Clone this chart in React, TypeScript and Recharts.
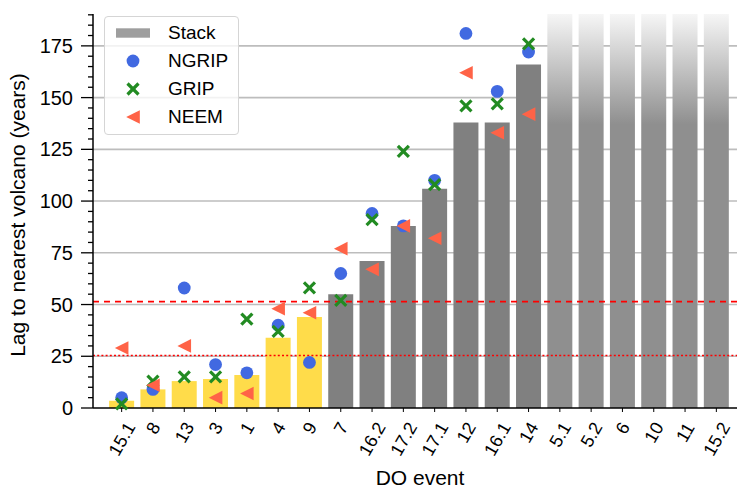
import {
  Bar,
  CartesianGrid,
  Cell,
  ComposedChart,
  Legend,
  ReferenceLine,
  Scatter,
  XAxis,
  YAxis,
} from "recharts";

const events = [
  "15.1", "8", "13", "3", "1", "4", "9",
  "7", "16.2", "17.2", "17.1", "12", "16.1", "14",
  "5.1", "5.2", "6", "10", "11", "15.2",
];

// lag of the stacked record; null = no volcano inside the search window
const stackLag = [
  3.5, 9, 13, 14, 16, 34, 44,
  55, 71, 88, 106, 138, 138, 166,
  null, null, null, null, null, null,
];
const barGroup = [
  "short", "short", "short", "short", "short", "short", "short",
  "long", "long", "long", "long", "long", "long", "long",
  "none", "none", "none", "none", "none", "none",
];

const ngripLag = [5, 9, 58, 21, 17, 40, 22, 65, 94, 88, 110, 181, 153, 172];
const gripLag = [2, 13, 15, 15, 43, 37, 58, 52, 91, 124, 108, 146, 147, 176];
const neemLag = [29, 11, 30, 5, 7, 48, 46, 77, 67, 88, 82, 162, 133, 142];

const dashedLevel = 51.4;
const dottedLevel = 25.4;

const Y_MAX = 190.4;
const majorTicks = [0, 25, 50, 75, 100, 125, 150, 175];
const allTicks = [
  0, 5, 10, 15, 20, 25, 30, 35, 40, 45, 50, 55, 60, 65, 70, 75, 80, 85, 90,
  95, 100, 105, 110, 115, 120, 125, 130, 135, 140, 145, 150, 155, 160, 165,
  170, 175, 180, 185, 190,
];
const gridTicks = [25, 50, 75, 100, 125, 150, 175];

const FONT = "'Liberation Sans', Arial, sans-serif";
const BLUE = "#4169e1";
const GREEN = "#228b22";
const RED = "#ff6347";

const groupFill: Record<string, string> = {
  short: "#ffdc4a",
  long: "#808080",
  none: "url(#fadeOut)",
};

const rows = events.map((event, i) => ({
  event,
  stack: stackLag[i] ?? Y_MAX,
  group: barGroup[i],
  ngrip: ngripLag[i] ?? null,
  grip: gripLag[i] ?? null,
  neem: neemLag[i] ?? null,
}));

const ngripRows = rows.filter((r) => r.ngrip != null);
const gripRows = rows.filter((r) => r.grip != null);
const neemRows = rows.filter((r) => r.neem != null);

const Dot = ({ cx, cy }: any) => <circle cx={cx} cy={cy} r={6.4} fill={BLUE} />;

const Cross = ({ cx, cy }: any) => (
  <g stroke={GREEN} strokeWidth={3.2}>
    <line x1={cx - 5.5} y1={cy - 5.5} x2={cx + 5.5} y2={cy + 5.5} />
    <line x1={cx - 5.5} y1={cy + 5.5} x2={cx + 5.5} y2={cy - 5.5} />
  </g>
);

const LeftTri = ({ cx, cy }: any) => (
  <polygon
    points={`${cx - 6.8},${cy} ${cx + 6.8},${cy - 6.8} ${cx + 6.8},${cy + 6.8}`}
    fill={RED}
  />
);

const textWidth = (s: string) =>
  [...s].reduce((w, c) => w + (c === "." ? 0.278 : 0.556), 0);

function EventTick({ x, y, payload }: any) {
  const fs = 18;
  const w = (textWidth(String(payload.value)) - 0.08) * fs;
  const h = 0.716 * fs;
  const cy = y + 9 + (0.866 * w + 0.5 * h) / 2;
  return (
    <text
      x={x}
      y={cy}
      dy={0.358 * fs}
      textAnchor="middle"
      transform={`rotate(-60 ${x} ${cy})`}
      fontSize={fs}
      fontFamily={FONT}
      fill="#000"
    >
      {payload.value}
    </text>
  );
}

function LagTick({ x, y, payload }: any) {
  const major = majorTicks.includes(payload.value);
  return (
    <g>
      <line
        x1={x - (major ? 12 : 5)}
        x2={x}
        y1={y}
        y2={y}
        stroke="#000"
        strokeWidth={1.3}
      />
      {major && (
        <text
          x={x - 20}
          y={y}
          dy={0.358 * 20}
          textAnchor="end"
          fontSize={20}
          fontFamily={FONT}
          fill="#000"
        >
          {payload.value}
        </text>
      )}
    </g>
  );
}

const YTitle = () => (
  <text
    x={25}
    y={215}
    transform="rotate(-90 25 215)"
    textAnchor="middle"
    fontSize={21}
    fontFamily={FONT}
    fill="#000"
  >
    Lag to nearest volcano (years)
  </text>
);

const XTitle = () => (
  <text
    x={420}
    y={485}
    textAnchor="middle"
    fontSize={21}
    fontFamily={FONT}
    fill="#000"
  >
    DO event
  </text>
);

const legendItems = [
  { name: "Stack", kind: "bar" },
  { name: "NGRIP", kind: "dot" },
  { name: "GRIP", kind: "cross" },
  { name: "NEEM", kind: "tri" },
];

function LegendBox() {
  return (
    <div
      style={{
        boxSizing: "border-box",
        width: 135,
        height: 119,
        paddingTop: 2,
        border: "1px solid #d5d5d5",
        borderRadius: 4,
        background: "rgba(255,255,255,0.8)",
        fontFamily: FONT,
        fontSize: 19,
      }}
    >
      {legendItems.map((item) => (
        <div
          key={item.name}
          style={{ display: "flex", alignItems: "center", height: 28 }}
        >
          <svg width={63} height={28} style={{ flex: "none" }}>
            {item.kind === "bar" && (
              <rect x={11} y={9.3} width={34} height={9.4} fill="#9e9e9e" />
            )}
            {item.kind === "dot" && <Dot cx={28} cy={14} />}
            {item.kind === "cross" && <Cross cx={28} cy={14} />}
            {item.kind === "tri" && <LeftTri cx={28} cy={14} />}
          </svg>
          <span style={{ lineHeight: "28px" }}>{item.name}</span>
        </div>
      ))}
    </div>
  );
}

export default function App() {
  return (
    <div
      style={{
        width: 737,
        height: 489,
        overflow: "hidden",
        position: "relative",
        background: "#fff",
      }}
    >
      <style>{"body{margin:0}"}</style>
      <ComposedChart
        width={760}
        height={489}
        data={rows}
        margin={{ top: 14, right: 15, bottom: 0, left: 0 }}
      >
        <defs>
          <linearGradient id="fadeOut" x1="0" y1="0" x2="0" y2="1">
            <stop offset="0%" stopColor="#f6f6f6" />
            <stop offset="28%" stopColor="#8f8f8f" />
            <stop offset="100%" stopColor="#8f8f8f" />
          </linearGradient>
        </defs>
        <CartesianGrid
          vertical={false}
          horizontalValues={gridTicks}
          stroke="#bdbdbd"
          strokeWidth={1.6}
        />
        <XAxis
          dataKey="event"
          type="category"
          allowDuplicatedCategory={false}
          interval={0}
          height={81}
          padding={{ left: 13, right: 13 }}
          axisLine={{ stroke: "#000", strokeWidth: 1.5 }}
          tickLine={{ stroke: "#000", strokeWidth: 1 }}
          tickSize={4}
          tickMargin={0}
          tick={<EventTick />}
          label={<XTitle />}
        />
        <YAxis
          type="number"
          domain={[0, Y_MAX]}
          ticks={allTicks}
          interval={0}
          width={93}
          axisLine={{ stroke: "#000", strokeWidth: 1.5 }}
          tickLine={false}
          tickSize={0}
          tickMargin={0}
          tick={<LagTick />}
          label={<YTitle />}
        />
        <Bar dataKey="stack" isAnimationActive={false}>
          {rows.map((r) => (
            <Cell key={r.event} fill={groupFill[r.group]} />
          ))}
        </Bar>
        <ReferenceLine
          y={dashedLevel}
          stroke="#ff0000"
          strokeWidth={1.6}
          strokeDasharray="6 5"
        />
        <ReferenceLine
          y={dottedLevel}
          stroke="#ff0000"
          strokeWidth={1.6}
          strokeDasharray="2 2.2"
        />
        <Scatter
          data={ngripRows}
          dataKey="ngrip"
          shape={<Dot />}
          isAnimationActive={false}
        />
        <Scatter
          data={gripRows}
          dataKey="grip"
          shape={<Cross />}
          isAnimationActive={false}
        />
        <Scatter
          data={neemRows}
          dataKey="neem"
          shape={<LeftTri />}
          isAnimationActive={false}
        />
        <Legend
          layout="vertical"
          align="center"
          verticalAlign="middle"
          content={<LegendBox />}
          wrapperStyle={{ left: 104, top: 16, width: 135, height: 119 }}
        />
      </ComposedChart>
    </div>
  );
}
